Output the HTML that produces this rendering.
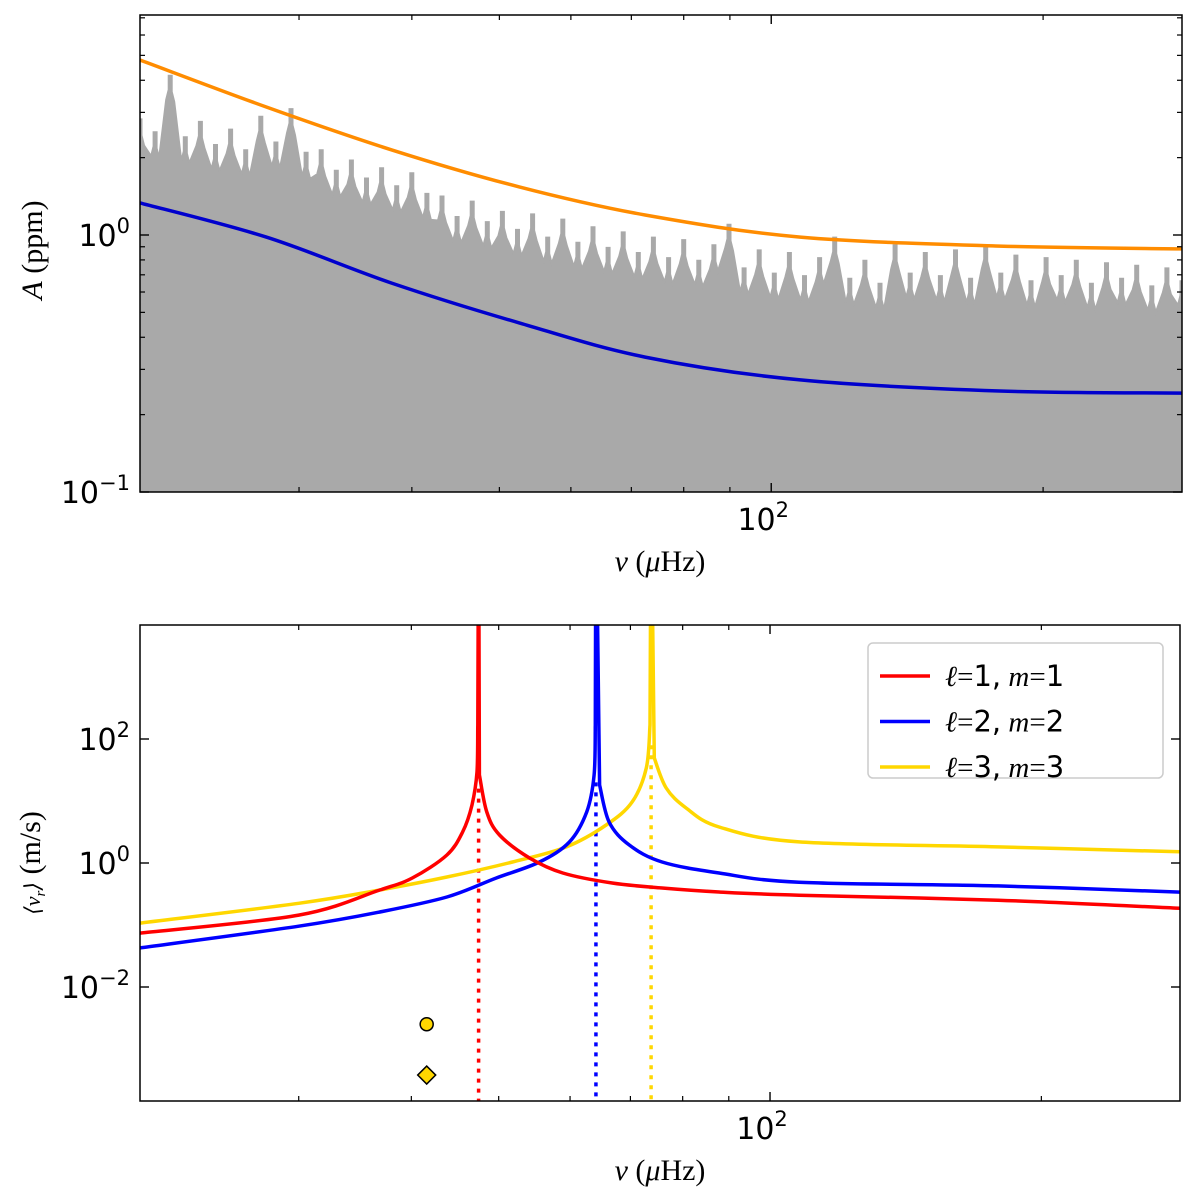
<!DOCTYPE html>
<html><head><meta charset="utf-8"><style>
body{margin:0;background:#fff;}
svg{display:block;}
text{font-family:"DejaVu Sans","Liberation Sans",sans-serif;fill:#000;}
.lbl{font-family:"Liberation Serif","DejaVu Serif",serif;}
</style></head><body>
<svg id="fig" width="1200" height="1198" viewBox="0 0 1200 1198" xmlns="http://www.w3.org/2000/svg">
<defs>
<clipPath id="clipTop"><rect x="140" y="15" width="1042" height="477"/></clipPath>
<clipPath id="clipBot"><rect x="140" y="625" width="1040" height="476"/></clipPath>
</defs>
<g id="topPanel"></g>
<g id="botPanel"></g>
</svg>
<script>
// ---- top panel data ----
const noiseLogA = [0.45,0.40,0.62,0.38,0.44,0.35,0.41,0.33,0.46,0.36,0.49,0.32,0.33,0.25,0.29,0.22,0.26,0.19,0.24,0.16,0.15,0.07,0.13,0.05,0.09,0.02,0.08,-0.01,0.06,-0.03,0.03,-0.05,0.01,-0.07,-0.01,-0.09,-0.02,-0.10,-0.04,0.04,-0.13,-0.06,-0.15,-0.07,-0.16,-0.09,-0.01,-0.17,-0.10,-0.19,-0.04,-0.15,-0.07,-0.16,-0.06,-0.17,-0.04,-0.15,-0.08,-0.18,-0.09,-0.16,-0.10,-0.19,-0.11,-0.17,-0.12,-0.20,-0.13,-0.18];
const modelFreq = [20,27.6,38.0,52.6,72.5,107.7,179,285];
const upperLogA = [0.681,0.498,0.331,0.187,0.078,-0.008,-0.043,-0.054];
const lowerLogA = [0.125,-0.008,-0.187,-0.342,-0.475,-0.564,-0.607,-0.615];
// ---- bottom panel data ----
const redFreq = [20,30,36.9,40.1,43.8,45.6,46.7,47.3,47.4,47.5,47.6,48.5,50.1,54.1,58.9,66.8,75.9,87.8,107.7,179,285];
const redLog  = [-1.13,-0.84,-0.435,-0.242,0.129,0.5,0.935,1.468,2.226,6,1.419,0.823,0.452,0.081,-0.161,-0.323,-0.403,-0.468,-0.52,-0.6,-0.73];
const blueFreq = [20,30,36.9,43.8,49.7,55.5,59.9,62.6,63.8,64.0,64.1,64.7,66.3,69.8,75.9,87.8,107.7,179,285];
const blueLog  = [-1.37,-1.02,-0.79,-0.548,-0.242,0.016,0.339,0.823,1.419,2.226,6,1.258,0.661,0.29,0.016,-0.161,-0.31,-0.37,-0.47];
const yelFreq = [20,30,36.9,43.8,51.8,59.4,65.8,70.3,72.9,73.6,73.8,74.4,76.7,80.7,87.8,107.7,179,285];
const yelLog  = [-0.97,-0.65,-0.435,-0.226,0.016,0.258,0.613,0.984,1.532,2.226,6,1.694,1.21,0.887,0.581,0.34,0.26,0.18];
const modeFreqs = [47.5,64.1,73.8];
const modeTopLog = [1.2,1.3,1.9];
const modeColors = ["#ff0000","#0000ff","#ffd700"];
const legendLabels = [["1","1"],["2","2"],["3","3"]];
const markerFreq = 41.6;
const markerLog = [-2.6,-3.42];
const xMin=20, xMax=285;

const NS="http://www.w3.org/2000/svg";
function el(parent,tag,attrs){const e=document.createElementNS(NS,tag);for(const k in attrs)e.setAttribute(k,attrs[k]);parent.appendChild(e);return e;}
function xScale(L,R){return f=>L+(Math.log10(f)-Math.log10(xMin))/(Math.log10(xMax)-Math.log10(xMin))*(R-L);}
function splineD(P,move){
  let d=(move?'M':'L')+P[0][0].toFixed(1)+','+P[0][1].toFixed(1);
  for(let i=0;i<P.length-1;i++){
    const p0=P[Math.max(i-1,0)],p1=P[i],p2=P[i+1],p3=P[Math.min(i+2,P.length-1)];
    const c1=[p1[0]+(p2[0]-p0[0])/6,p1[1]+(p2[1]-p0[1])/6];
    const c2=[p2[0]-(p3[0]-p1[0])/6,p2[1]-(p3[1]-p1[1])/6];
    d+='C'+c1.map(v=>v.toFixed(1)).join(',')+' '+c2.map(v=>v.toFixed(1)).join(',')+' '+p2.map(v=>v.toFixed(1)).join(',');
  }
  return d;
}
function smoothPath(fr,lg,xs,ys){return splineD(fr.map((f,i)=>[xs(f),ys(lg[i])]),true);}

// ===== TOP =====
const topG=document.getElementById('topPanel');
const tL=140,tR=1182,tT=15,tB=492;
const tx=xScale(tL,tR);
const tyl=l=>tB-(l-(-1))*257;
let pts=[];
const n=noiseLogA.length;
for(let i=0;i<n;i++){
  const f=Math.pow(10,Math.log10(xMin)+i/(n-1)*(Math.log10(xMax)-Math.log10(xMin)));
  const x=tx(f), y=tyl(noiseLogA[i]);
  pts.push((x-4).toFixed(1)+','+(y+24).toFixed(1));
  pts.push((x-1.5).toFixed(1)+','+(y+14).toFixed(1));
  pts.push((x-1.5).toFixed(1)+','+y.toFixed(1));
  pts.push((x+1.5).toFixed(1)+','+y.toFixed(1));
  pts.push((x+1.5).toFixed(1)+','+(y+16).toFixed(1));
  pts.push((x+4).toFixed(1)+','+(y+26).toFixed(1));
}
const gN=el(topG,'g',{'clip-path':'url(#clipTop)'});
const poly=el(gN,'polygon',{points:tL+','+tB+' '+pts.join(' ')+' '+tR+','+tB,fill:'#a9a9a9',stroke:'#a9a9a9','stroke-width':2,'stroke-linejoin':'miter'});


const up=el(gN,'path',{d:smoothPath(modelFreq,upperLogA,tx,tyl),fill:'none',stroke:'#ff8c00','stroke-width':3.5});


const lo=el(gN,'path',{d:smoothPath(modelFreq,lowerLogA,tx,tyl),fill:'none',stroke:'#0000cd','stroke-width':3.5});



function frame(g,L,R,T,B){
  const r=el(g,'rect',{x:L,y:T,width:R-L,height:B-T,fill:'none',stroke:'#000','stroke-width':1.5});
  
  
}
function xTicks(g,xs,T,B){
  const minors=[30,40,50,60,70,80,90,200];
  minors.forEach(f=>{const x=xs(f);el(g,'line',{x1:x,x2:x,y1:B,y2:B-5,stroke:'#000','stroke-width':1.2});el(g,'line',{x1:x,x2:x,y1:T,y2:T+5,stroke:'#000','stroke-width':1.2});});
  const x=xs(100);
  el(g,'line',{x1:x,x2:x,y1:B,y2:B-9,stroke:'#000','stroke-width':1.4});
  el(g,'line',{x1:x,x2:x,y1:T,y2:T+9,stroke:'#000','stroke-width':1.4});
  const t=el(g,'text',{x:x-8,y:B+38,'font-size':30,'text-anchor':'middle'});
  t.innerHTML='10<tspan font-size="21" dy="-13">2</tspan>';
  
  
  const xl=el(g,'text',{x:660,y:B+79,'font-size':30,'text-anchor':'middle',class:'lbl'});
  xl.innerHTML='<tspan font-style="italic">ν</tspan> (<tspan font-style="italic">μ</tspan>Hz)';
  
  
}
frame(topG,tL,tR,tT,tB);
xTicks(topG,tx,tT,tB);
[[-1,'10','−1'],[0,'10','0']].forEach(([l,b,e])=>{
  const y=tyl(l);
  el(topG,'line',{x1:tL,x2:tL+9,y1:y,y2:y,stroke:'#000','stroke-width':1.4});
  el(topG,'line',{x1:tR,x2:tR-9,y1:y,y2:y,stroke:'#000','stroke-width':1.4});
  const t=el(topG,'text',{x:tL-10,y:y+11,'font-size':30,'text-anchor':'end'});
  t.innerHTML=b+'<tspan font-size="21" dy="-13">'+e+'</tspan>';
  
  
});
for(let d=-1;d<=0;d++)for(let k=2;k<=9;k++){const l=d+Math.log10(k);const y=tyl(l);if(y<tT)continue;
  el(topG,'line',{x1:tL,x2:tL+5,y1:y,y2:y,stroke:'#000','stroke-width':1.2});el(topG,'line',{x1:tR,x2:tR-5,y1:y,y2:y,stroke:'#000','stroke-width':1.2});}
const tyt=el(topG,'text',{x:0,y:0,'font-size':30,'text-anchor':'middle',class:'lbl',transform:'translate(42,250) rotate(-90)'});
tyt.innerHTML='<tspan font-style="italic">A</tspan> (ppm)';



// ===== BOTTOM =====
const botG=document.getElementById('botPanel');
const bL=140,bR=1180,bT=625,bB=1101;
const bx=xScale(bL,bR);
const byl=l=>863-l*62;
const gB=el(botG,'g',{'clip-path':'url(#clipBot)'});
modeFreqs.forEach((f,i)=>{
  const x=bx(f);
  const v=el(gB,'line',{x1:x,x2:x,y1:byl(modeTopLog[i]),y2:bB,stroke:modeColors[i],'stroke-width':3.5,'stroke-dasharray':'4,6'});
  
  
});
function peakCurve(g,fr,lg,col,name){
  let pk=0;lg.forEach((v,i)=>{if(v>lg[pk])pk=i;});
  const P=fr.map((f,i)=>[bx(f),byl(lg[i])]);
  const left=P.slice(0,pk), right=P.slice(pk+1);
  let d=splineD(left,true)+'L'+P[pk][0].toFixed(1)+','+P[pk][1].toFixed(1)+splineD(right,false);
  const p=el(g,'path',{d:d,fill:'none',stroke:col,'stroke-width':3.5,'stroke-linejoin':'round'});
  
  
}
peakCurve(gB,yelFreq,yelLog,modeColors[2],'curve-l3-m3');
peakCurve(gB,blueFreq,blueLog,modeColors[1],'curve-l2-m2');
peakCurve(gB,redFreq,redLog,modeColors[0],'curve-l1-m1');
const c=el(botG,'circle',{cx:bx(markerFreq),cy:byl(markerLog[0]),r:6.5,fill:'#ffd700',stroke:'#000','stroke-width':1.5});


const mx=bx(markerFreq),my=byl(markerLog[1]);
const dm=el(botG,'polygon',{points:`${mx},${my-9} ${mx+9},${my} ${mx},${my+9} ${mx-9},${my}`,fill:'#ffd700',stroke:'#000','stroke-width':1.5});


frame(botG,bL,bR,bT,bB);
xTicks(botG,bx,bT,bB);
[[-2,'−2'],[0,'0'],[2,'2']].forEach(([l,e])=>{
  const y=byl(l);
  el(botG,'line',{x1:bL,x2:bL+9,y1:y,y2:y,stroke:'#000','stroke-width':1.4});
  el(botG,'line',{x1:bR,x2:bR-9,y1:y,y2:y,stroke:'#000','stroke-width':1.4});
  const t=el(botG,'text',{x:bL-10,y:y+11,'font-size':30,'text-anchor':'end'});
  t.innerHTML='10<tspan font-size="21" dy="-13">'+e+'</tspan>';
  
  
});
const byt=el(botG,'text',{x:0,y:0,'font-size':30,'text-anchor':'middle',class:'lbl',transform:'translate(40,863) rotate(-90)'});
byt.innerHTML='<tspan font-size="22" font-style="italic">⟨v<tspan font-size="15" dy="5">r</tspan><tspan dy="-5">⟩</tspan></tspan> (m/s)';


const lg=el(botG,'g',{});


el(lg,'rect',{x:868,y:643,width:295,height:135,rx:5,fill:'#fff',stroke:'#ccc','stroke-width':1.5});
legendLabels.forEach((lab,i)=>{
  const y=676+i*45.5;
  const ln=el(lg,'line',{x1:880,x2:930,y1:y,y2:y,stroke:modeColors[i],'stroke-width':3.5});
  
  
  const t=el(lg,'text',{x:945,y:y+10,'font-size':29,class:'lbl'});
  t.innerHTML='<tspan font-style="italic">ℓ</tspan>=<tspan font-family="DejaVu Sans">'+lab[0]+',</tspan> <tspan font-style="italic">m</tspan>=<tspan font-family="DejaVu Sans">'+lab[1]+'</tspan>';
  
  
});
</script>
</body></html>
